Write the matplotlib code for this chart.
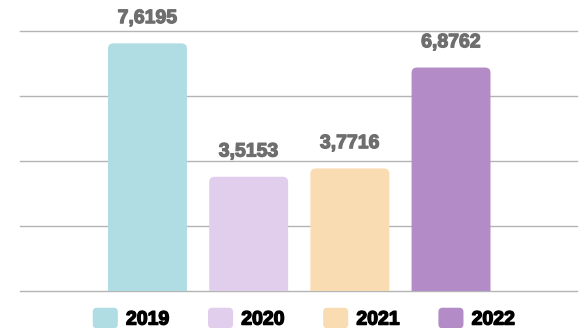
import matplotlib.pyplot as plt
import matplotlib.patheffects as pe
from matplotlib.patches import FancyBboxPatch, Rectangle
from matplotlib.legend_handler import HandlerPatch

years = ['2019', '2020', '2021', '2022']
values = [7.6195, 3.5153, 3.7716, 6.8762]
labels = ['7,6195', '3,5153', '3,7716', '6,8762']
colors = ['#b0dce4', '#e1ceec', '#fadcb2', '#b38bc7']

plt.rcParams['font.family'] = ['Liberation Sans', 'DejaVu Sans']


class RoundSquare(HandlerPatch):
    def create_artists(self, legend, orig, xd, yd, w, h, fs, trans):
        p = FancyBboxPatch((-xd, -yd), w, h,
                           boxstyle='round,pad=0,rounding_size=3',
                           fc=orig.get_facecolor(), ec='none', transform=trans)
        return [p]


fig = plt.figure(figsize=(5.84, 3.28), dpi=100)
ax = fig.add_axes([20/584, 37/328, 557/584, 260/328])
ax.set_xlim(-1.26, 4.245)
ax.set_ylim(0, 8)

for y in [0, 2, 4, 6, 8]:
    ax.axhline(y, color='#b4b4b4', lw=1.0, zorder=1, clip_on=False)

heavy = [pe.withStroke(linewidth=0.9, foreground='#6e6e6e')]
bars = ax.bar(range(len(years)), values, width=0.78, color=colors)
for b, c, lab in zip(bars, colors, labels):
    b.set_visible(False)
    x0, w, h = b.get_x(), b.get_width(), b.get_height()
    # rounded top, square bottom hidden under the axis floor
    p = FancyBboxPatch((x0, -1), w, h + 1,
                       boxstyle='round,pad=0,rounding_size=0.055',
                       mutation_aspect=2.9, fc=c, ec='none', zorder=2)
    ax.add_patch(p)
    ax.text(x0 + w/2, h + 0.5, lab, ha='center', va='bottom',
            fontsize=14, fontweight='bold', color='#6e6e6e', clip_on=False,
            path_effects=heavy)

ax.axis('off')

handles = [Rectangle((0, 0), 1, 1, fc=c, ec='none') for c in colors]
leg = fig.legend(handles, years, loc='center', bbox_to_anchor=(0.52, 0.03),
                 ncol=4, frameon=False, handlelength=1.29, handleheight=1.25,
                 handletextpad=0.42, columnspacing=2.0,
                 prop={'size': 14, 'weight': 'bold'},
                 handler_map={Rectangle: RoundSquare()})
for t in leg.get_texts():
    t.set_path_effects([pe.withStroke(linewidth=1.0, foreground='black')])

fig.savefig('out.png', dpi=100)
